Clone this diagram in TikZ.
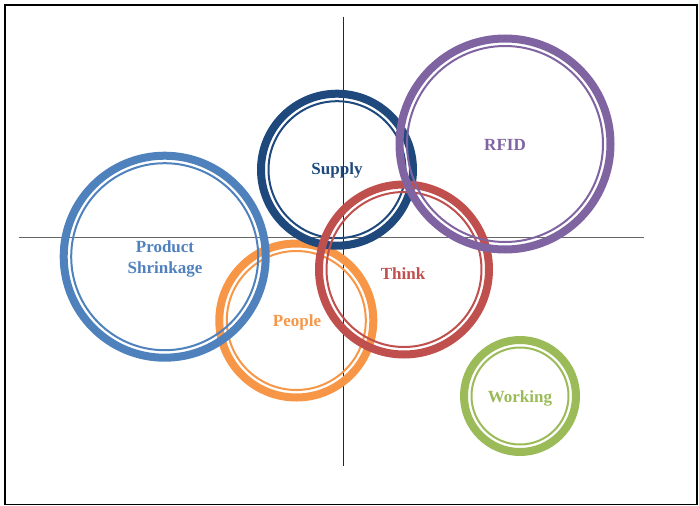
\documentclass[tikz,border=0pt]{standalone}
\usepackage{fontspec}
\setmainfont{Liberation Serif}

\definecolor{supplyc}{HTML}{1F497D}
\definecolor{rfidc}{HTML}{8064A2}
\definecolor{productc}{HTML}{4F81BD}
\definecolor{peoplec}{HTML}{F79646}
\definecolor{thinkc}{HTML}{C0504D}
\definecolor{workingc}{HTML}{9BBB59}

\tikzset{
  thickring/.style={line width=8pt},
  thinring/.style={line width=2pt},
  lbl/.style={font=\fontsize{17}{21}\selectfont\bfseries, align=center, inner sep=0pt}
}

\begin{document}
\begin{tikzpicture}[x=1pt,y=-1pt]
      \useasboundingbox (0,0) rectangle (699,506);
      \draw[line width=1.5pt] (5,5) rectangle (697,504.5);
      % axes
      \coordinate (ytop) at (343.3,16.7);
      \coordinate (ybot) at (343.3,465.7);
      \coordinate (xleft) at (19,237.7);
      \coordinate (xright) at (644.3,237.7);
      \draw[black!85, line width=0.9pt] (ytop) -- (ybot);
      \draw[black!60, line width=1.2pt] (xleft) -- (xright);
      % rings
      \draw
        (296.3,320.5) coordinate (people)
        (164.7,256.7) coordinate (product)
        (337,169.7) coordinate (supply)
        (404,269.5) coordinate (think)
        (505,144) coordinate (rfid)
        (520,396) coordinate (working);
      \begin{scope}[peoplec]
        \draw[thickring] (people) circle[radius=77];
        \draw[thinring] (people) circle[radius=69.5];
      \end{scope}
      \begin{scope}[productc]
        \draw[thickring] (product) circle[radius=101];
        \draw[thinring] (product) circle[radius=93.5];
      \end{scope}
      \begin{scope}[supplyc]
        \draw[thickring] (supply) circle[radius=76];
        \draw[thinring] (supply) circle[radius=68.5];
      \end{scope}
      \begin{scope}[thinkc]
        \draw[thickring] (think) circle[radius=85];
        \draw[thinring] (think) circle[radius=77.5];
      \end{scope}
      \begin{scope}[rfidc]
        \draw[thickring] (rfid) circle[radius=105.5];
        \draw[thinring] (rfid) circle[radius=98];
      \end{scope}
      \begin{scope}[workingc]
        \draw[thickring] (working) circle[radius=56];
        \draw[thinring] (working) circle[radius=48.5];
      \end{scope}
      % labels
      \node[lbl, text=supplyc] (supplylbl) at (337,170) {Supply};
      \node[lbl, text=rfidc] (rfidlbl) at (505,145) {RFID};
      \node[lbl, text=productc] (productlbl) at (165,259) {Product\\Shrinkage};
      \node[lbl, text=peoplec] (peoplelbl) at (297,322) {People};
      \node[lbl, text=thinkc] (thinklbl) at (403,274) {Think};
      \node[lbl, text=workingc] (workinglbl) at (520,398) {Working};
\end{tikzpicture}
\end{document}
